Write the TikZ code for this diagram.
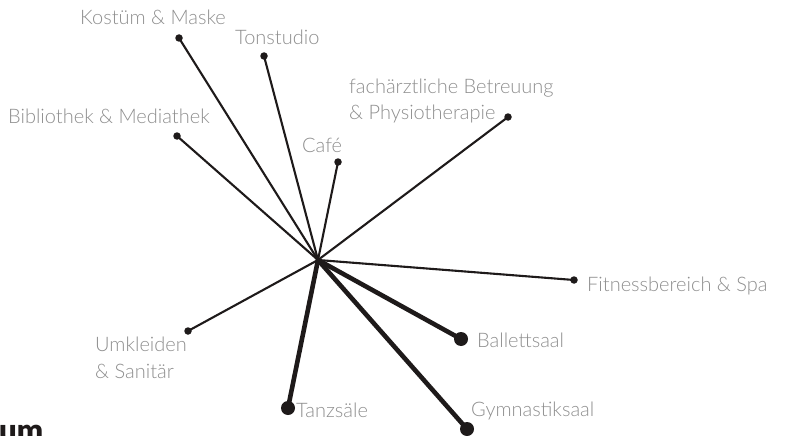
\documentclass[tikz,border=0pt]{standalone}
\usepackage{fontspec}
\setmainfont{Lato}
\newfontfamily\labelfont{Lato Light}
\newfontfamily\heavyfont{Lato Black}
\definecolor{labelgray}{HTML}{8E8E8E}
\definecolor{ink}{HTML}{1E1A1A}
\tikzset{
  x=1pt, y=-1pt,
  spoke/.style={draw=ink, line width=2.1pt, line cap=round},
  mainspoke/.style={draw=ink, line width=4.6pt, line cap=round},
  enddot/.style={circle, fill=ink, inner sep=0pt, minimum size=7.5pt},
  bigdot/.style={circle, fill=ink, inner sep=0pt, minimum size=14pt},
  lbl/.style={font=\labelfont\fontsize{20}{26}\selectfont, text=labelgray, inner sep=0pt, anchor=base west},
}
\begin{document}
\begin{tikzpicture}
\useasboundingbox (0,0) rectangle (787,436);
\clip (0,0) rectangle (787,436);

% hub
\coordinate (hub) at (318,260);

% end points
\node[enddot] (kostuem) at (179,38) {};
\node[enddot] (ton) at (264,56) {};
\node[enddot] (biblio) at (177,136) {};
\node[enddot] (cafe) at (338,162) {};
\node[enddot] (physio) at (508,117) {};
\node[enddot] (fitness) at (574,280) {};
\node[enddot] (umkleide) at (188,331) {};
\node[bigdot] (ballett) at (461,339) {};
\node[bigdot] (tanz) at (288,408) {};
\node[bigdot] (gym) at (467,429) {};

% spokes
\foreach \e in {kostuem,ton,biblio,cafe,physio,fitness,umkleide}
  \draw[spoke] (hub) -- (\e.center);
\foreach \e in {ballett,tanz,gym}
  \draw[mainspoke] (hub) -- (\e.center);

% labels
\node[lbl] (lkostuem) at (80,25) {Kostüm \& Maske};
\node[lbl] (lton) at (235,45) {Tonstudio};
\node[lbl] (lbiblio) at (8,123) {Bibliothek \& Mediathek};
\node[lbl] (lcafe) at (302,152) {Café};
\node[lbl] (lphysio1) at (349,93) {fachärztliche Betreuung};
\node[lbl] (lphysio2) at (349,119) {\& Physiotherapie};
\node[lbl] (lfitness) at (587,291) {Fitnessbereich \& Spa};
\node[lbl] (lballett) at (477,347) {Ballettsaal};
\node[lbl] (lumk1) at (95,351) {Umkleiden};
\node[lbl] (lumk2) at (95,378) {\& Sanitär};
\node[lbl] (ltanz) at (296,417) {Tanzsäle};
\node[lbl] (lgym) at (471,416) {Gymnastiksaal};

% heading fragment at the lower edge
\node[font=\heavyfont\fontsize{31}{33}\selectfont, text=ink, inner sep=0pt, anchor=base west] (heading) at (-1,441) {um};
\end{tikzpicture}
\end{document}
